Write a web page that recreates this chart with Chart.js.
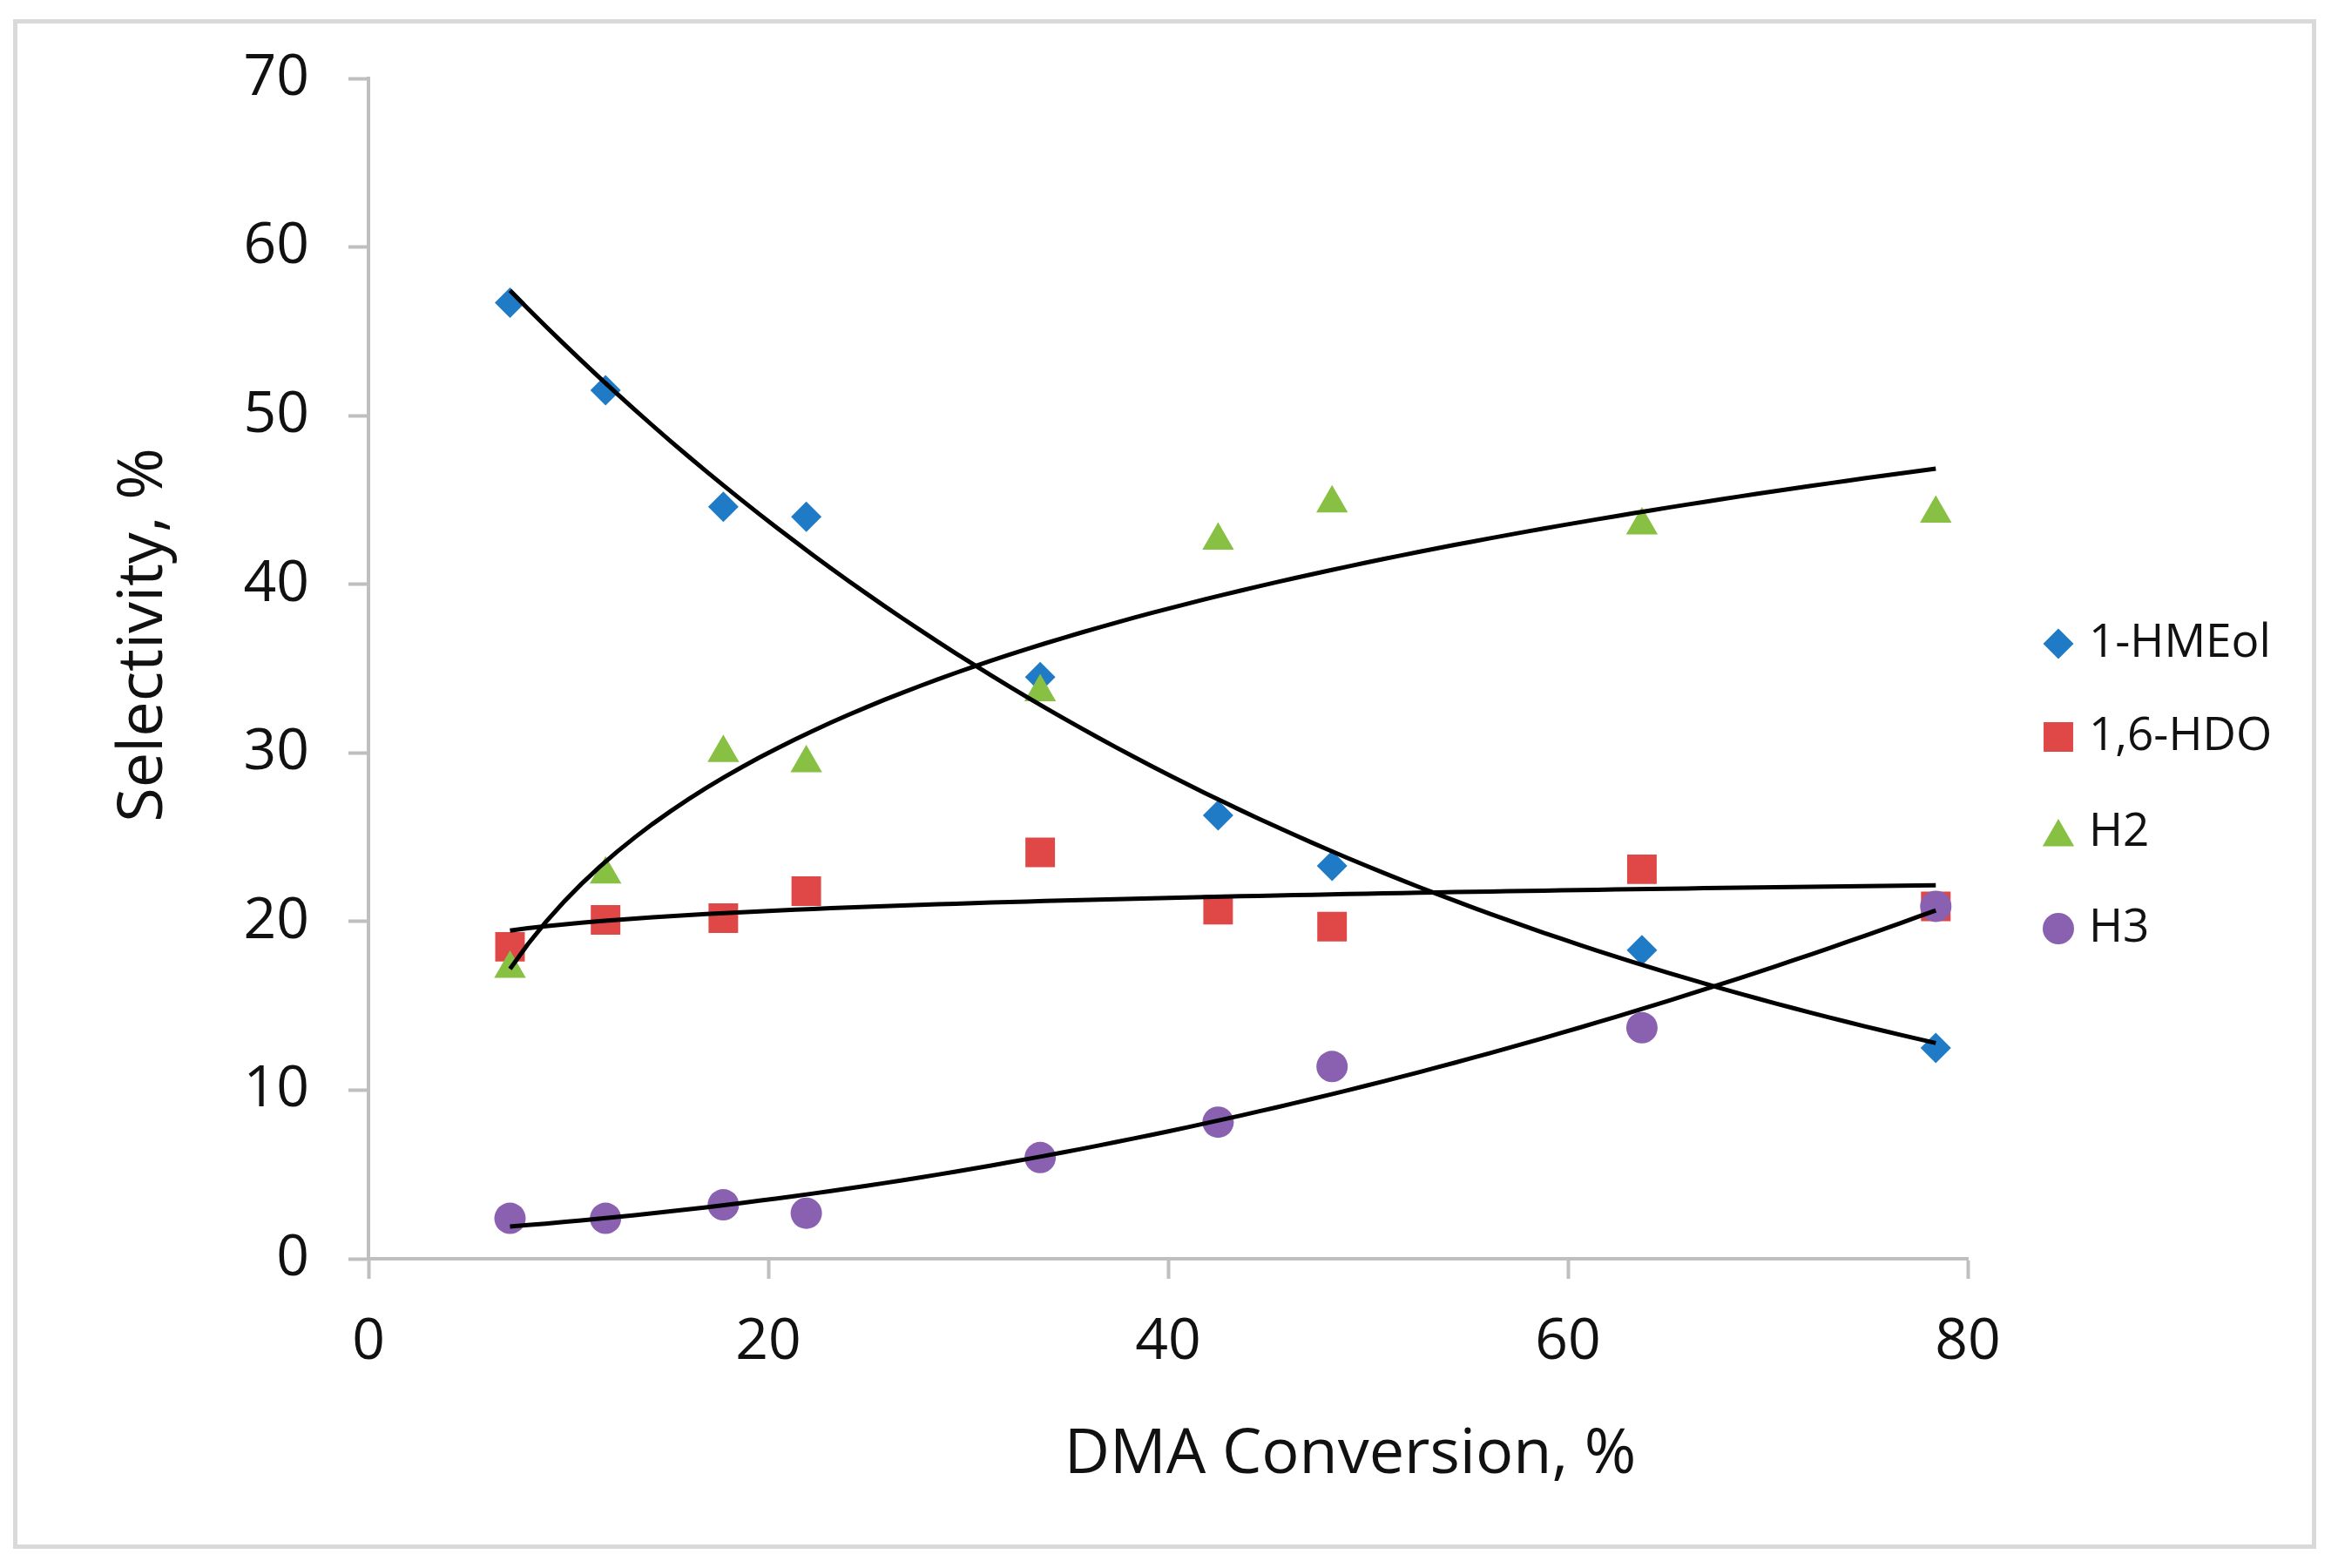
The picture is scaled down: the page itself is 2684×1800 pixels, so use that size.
<!DOCTYPE html>
<html>
<head>
<meta charset="utf-8">
<script src="https://cdn.jsdelivr.net/npm/chart.js@4.4.0/dist/chart.umd.min.js"></script>
<style>
  html, body { margin: 0; padding: 0; background: #fff; }
  #wrap { position: relative; width: 2684px; height: 1800px; }
  #frame { position: absolute; left: 15px; top: 22px; width: 2644px; height: 1756px; border: 5px solid #d9d9d9; box-sizing: border-box; pointer-events: none; }
  canvas { position: absolute; left: 0; top: 0; }
</style>
</head>
<body>
<div id="wrap">
  <canvas id="chart" width="2684" height="1800"></canvas>
  <div id="frame"></div>
</div>
<script>
const conversion = [7.08, 11.86, 17.75, 21.9, 33.6, 42.5, 48.2, 63.7, 78.4]
const hmeol = [56.7, 51.5, 44.6, 44.0, 34.5, 26.3, 23.3, 18.3, 12.5]
const hdo = [18.5, 20.1, 20.2, 21.8, 24.1, 20.7, 19.7, 23.1, 20.9]
const h2 = [17.2, 22.8, 30.0, 29.4, 33.6, 42.6, 44.8, 43.5, 44.2]
const h3 = [2.4, 2.4, 3.2, 2.7, 6.0, 8.1, 11.4, 13.7, 20.9]
const seriesNames = ['1-HMEol', '1,6-HDO', 'H2', 'H3']
const xTicks = [0, 20, 40, 60, 80]
const yTicks = [0, 10, 20, 30, 40, 50, 60, 70]

const blue = '#1f7bc6'
const red = '#e04848'
const green = '#88c043'
const purple = '#8a60b0'
const axisGray = '#bfbfbf'
const textColor = '#111111'
const font = "'Open Sans', 'Noto Sans', sans-serif"

// least-squares trend lines, as Excel draws them
function linFit(xs, ys) {
  const n = xs.length
  const mx = xs.reduce((s, v) => s + v, 0) / n
  const my = ys.reduce((s, v) => s + v, 0) / n
  let sxy = 0, sxx = 0
  xs.forEach((x, i) => {
    sxy += (x - mx) * (ys[i] - my)
    sxx += (x - mx) * (x - mx)
  })
  const b = sxy / sxx
  return [my - b * mx, b]
}
function expFit(xs, ys) {
  const [a, b] = linFit(xs, ys.map(Math.log))
  return x => Math.exp(a + b * x)
}
function logFit(xs, ys) {
  const [a, b] = linFit(xs.map(Math.log), ys)
  return x => a + b * Math.log(x)
}
function polyFit2(xs, ys) {
  const s = [0, 0, 0, 0, 0], t = [0, 0, 0]
  xs.forEach((x, i) => {
    for (let k = 0; k < 5; k++) s[k] += Math.pow(x, k)
    for (let k = 0; k < 3; k++) t[k] += ys[i] * Math.pow(x, k)
  })
  const det = m => m[0][0] * (m[1][1] * m[2][2] - m[1][2] * m[2][1])
    - m[0][1] * (m[1][0] * m[2][2] - m[1][2] * m[2][0])
    + m[0][2] * (m[1][0] * m[2][1] - m[1][1] * m[2][0])
  const M = [[s[0], s[1], s[2]], [s[1], s[2], s[3]], [s[2], s[3], s[4]]]
  const D = det(M)
  const c = [0, 1, 2].map(j => det(M.map((row, r) => row.map((v, k) => (k === j ? t[r] : v)))) / D)
  return x => c[0] + c[1] * x + c[2] * x * x
}
function trend(fn) {
  const x0 = conversion[0], x1 = conversion[conversion.length - 1]
  const pts = []
  for (let i = 0; i <= 80; i++) {
    const x = x0 + (x1 - x0) * i / 80
    pts.push({ x, y: fn(x) })
  }
  return pts
}
const pairs = ys => conversion.map((x, i) => ({ x, y: ys[i] }))

const trendStyle = {
  type: 'line',
  showLine: true,
  borderColor: '#000',
  borderWidth: 5,
  pointRadius: 0,
  fill: false,
  tension: 0,
  order: 0,
}

const markers = [
  { label: seriesNames[0], data: pairs(hmeol), pointStyle: 'rectRot', pointRadius: 17.5, backgroundColor: blue, order: 4 },
  { label: seriesNames[1], data: pairs(hdo), pointStyle: 'rect', pointRadius: 24, backgroundColor: red, order: 3 },
  { label: seriesNames[2], data: pairs(h2), pointStyle: 'triangle', pointRadius: 21, backgroundColor: green, order: 2 },
  { label: seriesNames[3], data: pairs(h3), pointStyle: 'circle', pointRadius: 18, backgroundColor: purple, order: 1 },
].map(d => Object.assign({ borderWidth: 0, pointBorderWidth: 0, pointBackgroundColor: d.backgroundColor, showLine: false }, d))

const trends = [
  Object.assign({ label: 'fit-hmeol', data: trend(expFit(conversion, hmeol)) }, trendStyle),
  Object.assign({ label: 'fit-hdo', data: trend(logFit(conversion, hdo)) }, trendStyle),
  Object.assign({ label: 'fit-h2', data: trend(logFit(conversion, h2)) }, trendStyle),
  Object.assign({ label: 'fit-h3', data: trend(polyFit2(conversion, h3)) }, trendStyle),
]

const titlesAndLegend = {
  id: 'titlesAndLegend',
  afterDraw(chart) {
    const ctx = chart.ctx
    ctx.save()
    ctx.fillStyle = textColor
    ctx.textAlign = 'center'
    ctx.textBaseline = 'alphabetic'
    ctx.font = `72px ${font}`
    ctx.fillText('DMA Conversion, %', 1550, 1691)
    ctx.save()
    ctx.translate(186, 729)
    ctx.rotate(-Math.PI / 2)
    ctx.fillText('Selectivity, %', 0, 0)
    ctx.restore()

    const rowsY = [739, 846, 961, 1066]
    ctx.font = `53px ${font}`
    ctx.textAlign = 'left'
    ctx.textBaseline = 'middle'
    markers.forEach((d, i) => {
      ctx.fillStyle = d.backgroundColor
      Chart.helpers.drawPoint(ctx, { pointStyle: d.pointStyle, radius: d.pointRadius, rotation: 0, borderWidth: 0 }, 2363, rowsY[i])
      ctx.fillStyle = textColor
      ctx.fillText(d.label, 2398, i === 2 ? 956 : rowsY[i])
    })
    ctx.restore()
  }
}

new Chart(document.getElementById('chart'), {
  type: 'scatter',
  data: { datasets: trends.concat(markers) },
  options: {
    responsive: false,
    devicePixelRatio: 1,
    animation: false,
    layout: { padding: { top: 90, right: 425, bottom: 0, left: 0 } },
    plugins: {
      legend: { display: false },
      tooltip: { enabled: false },
    },
    scales: {
      x: {
        type: 'linear',
        min: 0,
        max: 80,
        afterBuildTicks: s => { s.ticks = xTicks.map(v => ({ value: v })) },
        afterFit: s => { s.height = 355 },
        grid: { drawOnChartArea: false, drawTicks: true, tickLength: 23, tickColor: axisGray, tickWidth: 4 },
        border: { display: true, color: axisGray, width: 4 },
        ticks: { color: textColor, font: { family: font, size: 66 }, padding: 34, maxRotation: 0 },
      },
      y: {
        type: 'linear',
        min: 0,
        max: 70,
        afterBuildTicks: s => { s.ticks = yTicks.map(v => ({ value: v })) },
        afterFit: s => { s.width = 423 },
        grid: { drawOnChartArea: false, drawTicks: true, tickLength: 23, tickColor: axisGray, tickWidth: 4 },
        border: { display: true, color: axisGray, width: 4 },
        ticks: { color: textColor, font: { family: font, size: 66 }, padding: 45 },
      },
    },
  },
  plugins: [titlesAndLegend],
})
</script>
</body>
</html>
